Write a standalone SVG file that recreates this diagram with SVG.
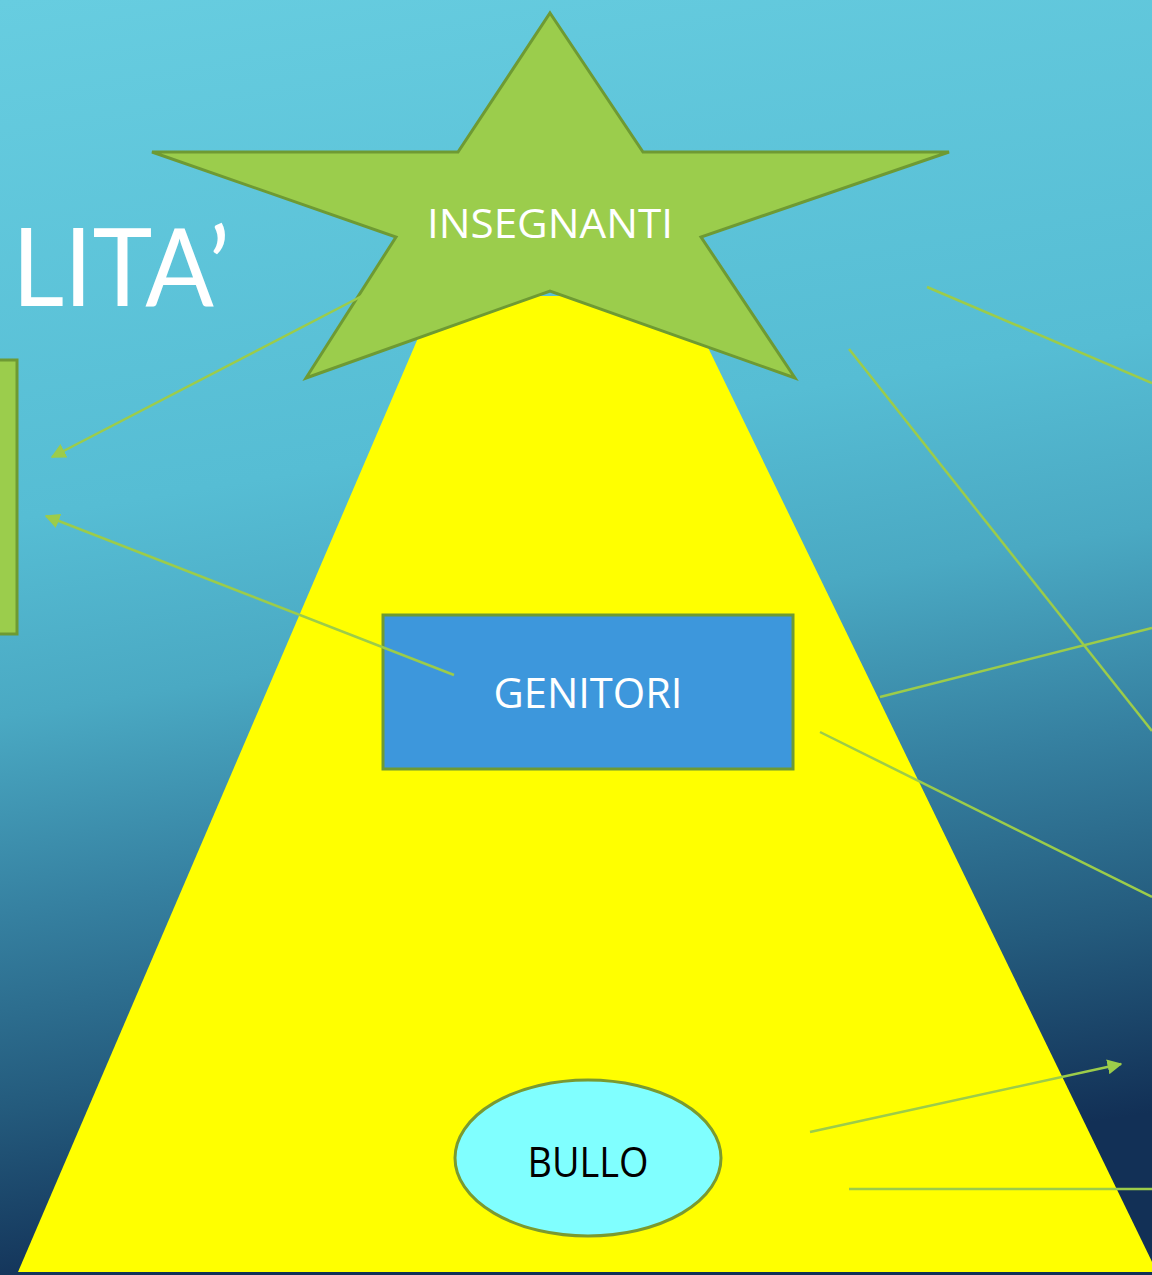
<svg xmlns="http://www.w3.org/2000/svg" width="1152" height="1275" viewBox="0 0 1152 1275">
<defs>
<linearGradient id="bg" x1="0" y1="0" x2="0.15" y2="1">
<stop offset="0" stop-color="#67cde0"/>
<stop offset="0.4" stop-color="#56bdd4"/>
<stop offset="0.55" stop-color="#4aa9c3"/>
<stop offset="0.7" stop-color="#3681a1"/>
<stop offset="0.85" stop-color="#245b7d"/>
<stop offset="1" stop-color="#123056"/>
</linearGradient>
<marker id="ah" viewBox="0 0 10 10" refX="9" refY="5" markerWidth="6" markerHeight="6" markerUnits="strokeWidth" orient="auto">
<path d="M0,0 L10,5 L0,10 z" fill="#9ccc4a"/>
</marker>
<style>
.lbl{font-family:"Open Sans","Liberation Sans",sans-serif;text-anchor:middle}
.con{stroke:#9ccc4a;stroke-width:2.5;fill:none}
</style>
</defs>
<rect x="0" y="0" width="1152" height="1275" fill="url(#bg)"/>
<g id="pyramid">
<polygon points="436,296 683,296 1157,1272 18,1272" fill="#ffff00"/>
</g>
<g id="title">
<text x="12" y="306" font-family="Lato,'Liberation Sans',sans-serif" font-size="108" fill="#ffffff" textLength="218" lengthAdjust="spacingAndGlyphs">LITA’</text>
</g>
<g id="left-box">
<rect x="-10" y="360" width="27" height="274" fill="#9bcd4c" stroke="#6e9a33" stroke-width="3"/>
</g>
<g id="insegnanti">
<polygon points="550,13 643,152 949,152 701,237 795,378 550,291 306,378 396,237 152,152 458,152" fill="#9bcd4c" stroke="#6e9a33" stroke-width="3" stroke-linejoin="miter"/>
<text class="lbl" x="550" y="238" font-size="40" fill="#ffffff" textLength="246" lengthAdjust="spacingAndGlyphs">INSEGNANTI</text>
</g>
<g id="genitori">
<rect x="383" y="615" width="410" height="154" fill="#3d97dc" stroke="#6e9a33" stroke-width="3"/>
<text class="lbl" x="588" y="708" font-size="42" fill="#ffffff" textLength="189" lengthAdjust="spacingAndGlyphs">GENITORI</text>
</g>
<g id="bullo">
<ellipse cx="588" cy="1158" rx="133" ry="78" fill="#80ffff" stroke="#7a9a30" stroke-width="3"/>
<text class="lbl" x="588" y="1177" font-size="42" fill="#000000" textLength="121" lengthAdjust="spacingAndGlyphs">BULLO</text>
</g>
<g id="connectors">
<line class="con" x1="362" y1="296" x2="52" y2="457" marker-end="url(#ah)"/>
<line class="con" x1="454" y1="675" x2="46" y2="516" marker-end="url(#ah)"/>
<line class="con" x1="927" y1="287" x2="1152" y2="383"/>
<line class="con" x1="849" y1="349" x2="1152" y2="731"/>
<line class="con" x1="880" y1="697" x2="1152" y2="628"/>
<line class="con" x1="820" y1="732" x2="1152" y2="897"/>
<line class="con" x1="810" y1="1132" x2="1121" y2="1064" marker-end="url(#ah)"/>
<line class="con" x1="849" y1="1189" x2="1152" y2="1189"/>
</g>
</svg>
